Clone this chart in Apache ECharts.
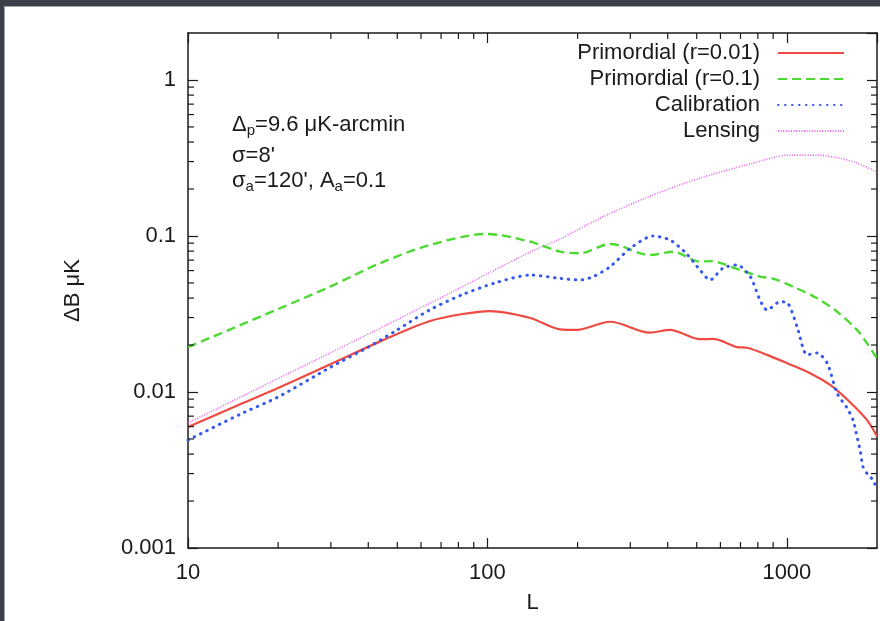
<!DOCTYPE html>
<html>
<head>
<meta charset="utf-8">
<script src="https://cdn.jsdelivr.net/npm/echarts@6/dist/echarts.min.js"></script>
<style>
html,body{margin:0;padding:0;background:#3c404a;}
#chart{width:880px;height:621px;}
</style>
</head>
<body>
<div id="chart"></div>
<script>
// ---- data ----
const X_MIN = 10, X_MAX = 2000;
const Y_MIN = 0.001, Y_MAX = 2;

const seriesNames = ['Primordial (r=0.01)', 'Primordial (r=0.1)', 'Calibration', 'Lensing'];

const redL = [10,15,20,30,44.8,64.3,82.7,102,139,175,199,257,349,407,513,567,682,736,859,1002,1195,1395,1626,1853,2000];
const redV = [0.00597,0.00838,0.0106,0.0151,0.0215,0.0285,0.0316,0.0330,0.0298,0.0252,0.0250,0.0282,0.0240,0.0250,0.0218,0.0219,0.0194,0.0192,0.0173,0.0153,0.0132,0.0111,0.0086,0.0066,0.0052];

const greenL = [10,15,20,29.8,43.7,64.3,99.6,139,175,204,257,349,417,513,554,698,813,899,1049,1262,1472,1715,1853,2000];
const greenV = [0.0194,0.0269,0.034,0.0473,0.0668,0.0876,0.103,0.0919,0.0793,0.0775,0.0889,0.0755,0.0793,0.0684,0.0690,0.0605,0.0549,0.0533,0.0473,0.0399,0.0327,0.0250,0.0205,0.0164];

const blueL = [10,15,20,30,40,50,64,82,105,139,175,204,226,257,300,357,407,461,513,554,611,682,755,813,859,949,1009,1082,1168,1262,1363,1472,1589,1664,1716,1756,1797,1867,1941,2000];
const blueV = [0.00492,0.00723,0.00929,0.01446,0.0194,0.0250,0.0335,0.0419,0.0497,0.0562,0.0535,0.0522,0.0549,0.0636,0.0834,0.100,0.0943,0.0774,0.0605,0.0522,0.0621,0.0652,0.0549,0.0389,0.0335,0.0379,0.0370,0.0262,0.0173,0.0178,0.0153,0.0098,0.0079,0.0066,0.00515,0.00425,0.0033,0.00294,0.00273,0.00236];

const magL = [10,20,37.5,75,139,175,238,349,513,753,1020,1250,1500,1700,2000];
const magV = [0.00633,0.0122,0.0221,0.0431,0.0790,0.0957,0.130,0.180,0.235,0.289,0.330,0.330,0.315,0.295,0.257];

const xMinorTicks = [20,30,40,50,60,70,80,90,200,300,400,500,600,700,800,900];
const yMinorTicks = [0.002,0.003,0.004,0.005,0.006,0.007,0.008,0.009,
                     0.02,0.03,0.04,0.05,0.06,0.07,0.08,0.09,
                     0.2,0.3,0.4,0.5,0.6,0.7,0.8,0.9];

// ---- chart ----
const FONT = '"Liberation Sans", Arial, Helvetica, sans-serif';
const INK = '#1a1a1a';
const pairs = (xs, ys) => xs.map((x, i) => [x, ys[i]]);

const chart = echarts.init(document.getElementById('chart'), null, {renderer: 'canvas'});

const axisCommon = {
  type: 'log', logBase: 10,
  axisLine: {show: true, lineStyle: {color: INK, width: 1.5}},
  axisTick: {show: true, inside: true, length: 10, lineStyle: {color: INK, width: 1.2}},
  splitLine: {show: false},
  minorTick: {show: false},
  axisPointer: {show: false}
};

const option = {
  backgroundColor: '#3c404a',
  animation: false,
  graphic: [
    {type: 'rect', left: 4, top: 6, z: -20, silent: true,
     shape: {width: 880, height: 621}, style: {fill: '#a4a6aa'}},
    {type: 'rect', left: 5, top: 7, z: -19, silent: true,
     shape: {width: 880, height: 621}, style: {fill: '#ffffff'}},
    {type: 'text', left: 232, top: 114, z: 10, silent: true,
     style: {text: 'Δ{s|p}=9.6 μK-arcmin', fill: INK, font: '22px ' + FONT,
             rich: {s: {fontSize: 15, fontFamily: FONT, fill: INK, padding: [12, 0, 0, 0]}}}},
    {type: 'text', left: 232, top: 145, z: 10, silent: true,
     style: {text: "σ=8'", fill: INK, font: '22px ' + FONT}},
    {type: 'text', left: 232, top: 170, z: 10, silent: true,
     style: {text: "σ{s|a}=120', A{s|a}=0.1", fill: INK, font: '22px ' + FONT,
             rich: {s: {fontSize: 15, fontFamily: FONT, fill: INK, padding: [12, 0, 0, 0]}}}}
  ],
  grid: {left: 188, right: 3, top: 33, bottom: 73, containLabel: false},
  legend: {
    data: seriesNames,
    orient: 'vertical',
    right: 35, top: 42,
    align: 'right',
    padding: 0,
    itemWidth: 66, itemHeight: 14, itemGap: 4,
    selectedMode: false,
    itemStyle: {color: 'rgba(0,0,0,0)', borderColor: 'rgba(0,0,0,0)', borderWidth: 0, opacity: 0},
    textStyle: {fontFamily: FONT, fontSize: 22, color: INK, lineHeight: 22, padding: [0, 13, 0, 0]}
  },
  xAxis: [
    Object.assign({}, axisCommon, {
      position: 'bottom', min: X_MIN, max: X_MAX,
      name: 'L', nameLocation: 'middle', nameGap: 44,
      nameTextStyle: {fontFamily: FONT, fontSize: 22, color: INK},
      axisLabel: {show: true, margin: 14, fontFamily: FONT, fontSize: 22, color: INK,
                  showMaxLabel: false, formatter: v => String(v)}
    }),
    Object.assign({}, axisCommon, {
      position: 'top', min: X_MIN, max: X_MAX,
      axisLabel: {show: false}
    })
  ],
  yAxis: [
    Object.assign({}, axisCommon, {
      position: 'left', min: Y_MIN, max: Y_MAX,
      name: 'ΔB μK', nameLocation: 'middle', nameGap: 104, nameRotate: 90,
      nameTextStyle: {fontFamily: FONT, fontSize: 22, color: INK},
      axisLabel: {show: true, margin: 12, fontFamily: FONT, fontSize: 22, color: INK,
                  showMaxLabel: false, formatter: v => String(v)}
    }),
    Object.assign({}, axisCommon, {
      position: 'right', min: Y_MIN, max: Y_MAX,
      axisLabel: {show: false}
    })
  ],
  series: [
    {name: seriesNames[0], type: 'line', data: pairs(redL, redV), symbol: 'none', smooth: 0.3,
     lineStyle: {color: '#ee4a42', width: 2.2, type: 'solid'}, itemStyle: {color: '#ee4a42'}, z: 4},
    {name: seriesNames[1], type: 'line', data: pairs(greenL, greenV), symbol: 'none', smooth: 0.3,
     lineStyle: {color: '#4ed834', width: 2.4, type: [9, 5]}, itemStyle: {color: '#4ed834'}, z: 3},
    {name: seriesNames[2], type: 'line', data: pairs(blueL, blueV), symbol: 'none', smooth: 0.25,
     lineStyle: {color: '#3558ee', width: 3, type: [0.5, 6.5], cap: 'round'}, itemStyle: {color: '#3558ee'}, z: 5},
    {name: seriesNames[3], type: 'line', data: pairs(magL, magV), symbol: 'none', smooth: 0.3,
     lineStyle: {color: '#ea5eea', width: 1.6, type: [1, 1.6]}, itemStyle: {color: '#ea5eea'}, z: 2},
    {
      type: 'custom', name: 'minorTicks', silent: true, clip: false, z: 6,
      xAxisIndex: 0, yAxisIndex: 0,
      dimensions: ['x', 'y', 'k'], encode: {x: 0, y: 1},
      data: xMinorTicks.map(v => [v, Y_MIN, 0]).concat(yMinorTicks.map(v => [X_MIN, v, 1])),
      renderItem: function (params, api) {
        const cs = params.coordSys;
        const k = api.value(2);
        const st = {stroke: INK, lineWidth: 1.2};
        const L = 6;
        if (k === 0) {
          const x = api.coord([api.value(0), Y_MIN])[0];
          const b = cs.y + cs.height, t = cs.y;
          return {type: 'group', children: [
            {type: 'line', shape: {x1: x, y1: b, x2: x, y2: b - L}, style: st},
            {type: 'line', shape: {x1: x, y1: t, x2: x, y2: t + L}, style: st}
          ]};
        } else {
          const y = api.coord([X_MIN, api.value(1)])[1];
          const l = cs.x, r = cs.x + cs.width;
          return {type: 'group', children: [
            {type: 'line', shape: {x1: l, y1: y, x2: l + L, y2: y}, style: st},
            {type: 'line', shape: {x1: r, y1: y, x2: r - L, y2: y}, style: st}
          ]};
        }
      }
    }
  ]
};
chart.setOption(option);
</script>
</body>
</html>
